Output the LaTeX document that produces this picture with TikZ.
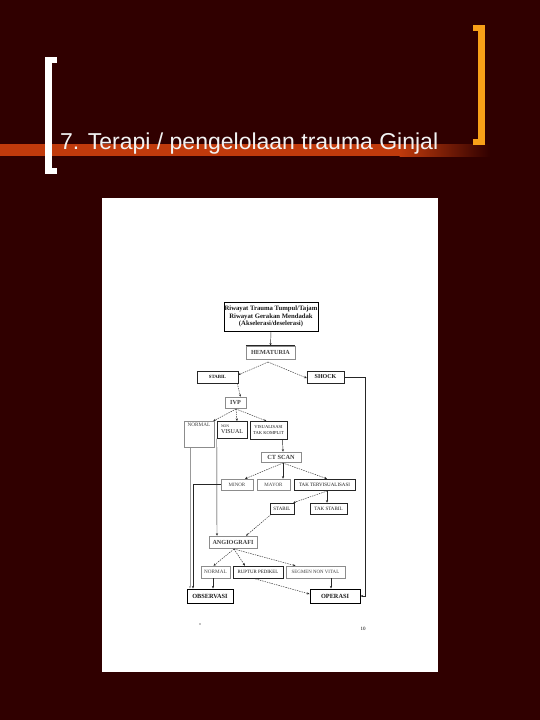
\documentclass[tikz,border=0pt]{standalone}
\usepackage{fontspec}
\setmainfont{Liberation Serif}
\newfontfamily\titlefont{Liberation Sans}
\usetikzlibrary{arrows.meta}
\definecolor{bgc}{RGB}{48,0,0}
\definecolor{barc}{RGB}{192,58,12}
\definecolor{orbr}{RGB}{248,160,24}
\newcommand\fs[1]{\fontsize{#1}{#1}\selectfont}
\tikzset{
  bx/.style={draw=black!85, line width=0.5pt, inner sep=0pt, align=center, text=black!90},
  lite/.style={bx, draw=black!45, text=black!75},
  heavy/.style={bx, line width=0.9pt, draw=black},
  arr/.style={-{Stealth[length=2.6pt,width=2.2pt]}, line width=0.45pt, draw=black!85},
  darr/.style={arr, dash pattern=on 1.4pt off 1pt},
  farr/.style={arr, draw=black!40},
}
\begin{document}
\begin{tikzpicture}[x=1pt,y=-1pt]
\useasboundingbox (0,0) rectangle (540,720);
\fill[bgc] (0,0) rectangle (540,720);
% bar
\fill[barc] (0,144) rectangle (400,156);
\shade[left color=barc, right color=bgc] (399.5,144) rectangle (490,156);
% brackets
\fill[white] (45,57) rectangle (52,174);
\fill[white] (45,57) rectangle (57,63);
\fill[white] (45,168) rectangle (57,174);
\fill[orbr] (478,25) rectangle (485,145);
\fill[orbr] (473,25) rectangle (485,31);
\fill[orbr] (473,139) rectangle (485,145);
% title
\node[anchor=base west, inner sep=0pt, text=white!95!black, font=\titlefont\fs{23}] (title) at (60,149) {7. Terapi / pengelolaan trauma Ginjal};
% page
\fill[white] (102,198) rectangle (438,672);
% nodes
\node[heavy, minimum width=94, minimum height=29, font=\bfseries\fs{6.7}, align=center] (riw) at (271,316.5)
  {Riwayat Trauma Tumpul/Tajam\\[0.6pt]Riwayat Gerakan Mendadak\\[0.6pt](Akselerasi/deselerasi)};
\node[lite, minimum width=49, minimum height=13, font=\bfseries\fs{6.2}] (hem) at (270.5,352.5) {HEMATURIA};
\draw[black!85, line width=0.7pt] (hem.north west) -- (hem.north east);
\node[bx, minimum width=41, minimum height=12, font=\bfseries\fs{4.8}] (stab) at (217.5,377) {STABIL};
\node[bx, minimum width=37, minimum height=12, font=\bfseries\fs{6}] (shock) at (325.5,377) {SHOCK};
\node[lite, minimum width=21, minimum height=11, font=\bfseries\fs{6.2}] (ivp) at (235.5,402.5) {IVP};
\node[lite, minimum width=30, minimum height=26, font=\fs{5.2}, anchor=north] (norm) at (199,421) {\strut NORMAL\\[14pt]};
\node[bx, minimum width=30, minimum height=17, font=\fs{6}, align=left, anchor=north] (nonv) at (232,421) {{\fs{3.8}NON}\\VISUAL};
\node[bx, minimum width=37, minimum height=18, font=\fs{4.6}, anchor=north] (vtk) at (268.5,421) {VISUALISASI\\[1pt]TAK KOMPLIT};
\node[lite, minimum width=40, minimum height=10, font=\bfseries\fs{6.3}] (ct) at (281,457) {CT SCAN};
\node[lite, minimum width=32, minimum height=11, font=\fs{5}] (minor) at (237,484.5) {MINOR};
\node[lite, minimum width=33, minimum height=11, font=\fs{5}] (mayor) at (273.5,484.5) {MAYOR};
\node[bx, minimum width=61, minimum height=11, font=\fs{5}] (tak) at (324.5,484.5) {TAK TERVISUALISASI};
\node[bx, minimum width=24, minimum height=11, font=\fs{5}] (stab2) at (282,508.5) {STABIL};
\node[bx, minimum width=37, minimum height=11, font=\fs{5}] (tstab) at (328.5,508.5) {TAK STABIL};
\node[lite, minimum width=48, minimum height=12, font=\bfseries\fs{6.2}] (angio) at (233,542) {ANGIOGRAFI};
\node[lite, minimum width=29, minimum height=12, font=\fs{5.2}] (norm2) at (215.5,572) {NORMAL};
\node[bx, minimum width=50, minimum height=12, font=\fs{4.9}] (rup) at (258,572) {RUPTUR PEDIKEL};
\node[lite, minimum width=59, minimum height=12, font=\fs{4.9}] (seg) at (315.5,572) {SEGMEN NON VITAL};
\node[heavy, minimum width=46, minimum height=14, font=\bfseries\fs{6.3}] (obs) at (210,596) {OBSERVASI};
\node[heavy, minimum width=50, minimum height=14, font=\bfseries\fs{6.3}] (ops) at (335,596) {OPERASI};
\node[inner sep=0pt, font=\fs{5}] (pg) at (363,629) {10};
% connectors
\draw[arr] (riw.south) -- (hem.north);
\coordinate (hb) at (268,362);
\draw[darr] (hb) -- ([yshift=2pt]stab.east);
\draw[darr] (hb) -- ([yshift=-1pt]shock.west);
\draw[arr] (shock.east) -- ++(21,0) |- (ops.east);
\draw[darr] ([xshift=-1pt]stab.south east) -- ([xshift=5pt]ivp.north);
\coordinate (ib) at (236,409);
\draw[darr] (ib) -- ([xshift=-1pt]norm.north east);
\draw[darr] (ib) -- ([xshift=5pt]nonv.north);
\draw[darr] (ib) -- ([xshift=-2pt]vtk.north);
\draw[arr] ([xshift=14pt]vtk.south) -- ([xshift=2pt]ct.north);
\coordinate (cb) at (283,463);
\draw[darr] (cb) -- ([xshift=8pt]minor.north);
\draw[arr] (cb) -- ([xshift=9.5pt]mayor.north);
\draw[darr] (cb) -- ([xshift=2.5pt]tak.north);
\draw[arr] (nonv.south west) -- ([xshift=-16pt]angio.north);
\draw[arr] (minor.west) -| ([xshift=-17pt]obs.north);
\draw[farr] ([xshift=-9pt]norm.south) -- ([xshift=-20pt]obs.north);
\coordinate (tb) at (327,491);
\draw[darr] (tb) -- ([xshift=-1pt]stab2.north east);
\draw[arr] (tb) -- ([xshift=-1.5pt]tstab.north);
\draw[darr] ([xshift=1.5pt]stab2.south west) -- ([xshift=13pt]angio.north);
\coordinate (ab) at (234,549);
\draw[darr] (ab) -- ([xshift=-2pt]norm2.north);
\draw[darr] (ab) -- ([xshift=-13pt]rup.north);
\draw[darr] (ab) -- ([xshift=-20pt]seg.north);
\draw[arr] ([xshift=-2.5pt]norm2.south) -- ([xshift=3pt]obs.north);
\draw[darr] ([xshift=-5pt]rup.south) -- ([yshift=2pt]ops.west);
\draw[arr] ([xshift=15.5pt]seg.south) -- ([xshift=-4pt]ops.north);
\fill[black] (200,624) circle (0.6);
\end{tikzpicture}
\end{document}
